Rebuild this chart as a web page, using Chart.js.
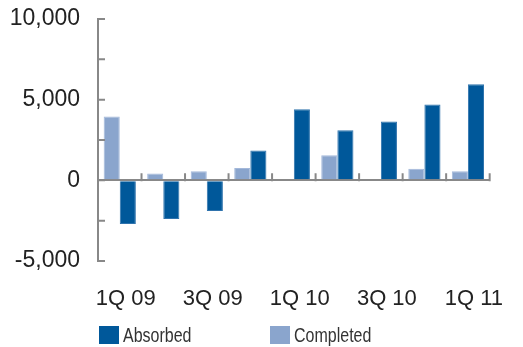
<!DOCTYPE html>
<html>
<head>
<meta charset="utf-8">
<script src="https://cdn.jsdelivr.net/npm/chart.js@4/dist/chart.umd.min.js"></script>
<style>
  html, body { margin: 0; padding: 0; background: #fff; }
  #wrap { position: relative; width: 523px; height: 347px; }
  .swatch { position: absolute; top: 326px; width: 20px; height: 18px; }
  .ltext { position: absolute; top: 323px; font-family: "Liberation Sans", Arial, sans-serif;
           font-size: 20px; line-height: 24px; color: #333; white-space: nowrap;
           transform: scaleX(0.8); transform-origin: 0 50%; }
</style>
</head>
<body>
<div id="wrap">
  <canvas id="c" width="523" height="347"></canvas>
  <div id="legend"></div>
</div>
<script>
// Quarterly office space: completions vs. net absorption
const quarters = ['1Q 09', '2Q 09', '3Q 09', '4Q 09', '1Q 10', '2Q 10', '3Q 10', '4Q 10', '1Q 11'];
const completed = [3950, 430, 560, 760, 0, 1550, 0, 720, 560];
const absorbed = [-2700, -2400, -1900, 1850, 4400, 3100, 3650, 4700, 5950];
const yTickLabels = { '10000': '10,000', '5000': '5,000', '0': '0', '-5000': '-5,000' };

const DARK = '#00589a';
const LIGHT = '#8aa5cd';
const AXIS = '#888888';

// Short inward tick marks along the value axis and the zero line
const innerTicks = {
  id: 'innerTicks',
  afterDatasetsDraw(chart) {
    const { ctx, scales: { x, y } } = chart;
    const len = 7;
    ctx.save();
    ctx.strokeStyle = AXIS;
    ctx.lineWidth = 2;
    ctx.beginPath();
    y.ticks.forEach(t => {
      const py = y.getPixelForValue(t.value);
      ctx.moveTo(y.right, py);
      ctx.lineTo(y.right + len, py);
    });
    const zero = y.getPixelForValue(0);
    const half = (x.getPixelForValue(1) - x.getPixelForValue(0)) / 2;
    for (let i = 0; i <= quarters.length; i++) {
      const px = x.getPixelForValue(0) - half + i * half * 2;
      ctx.moveTo(px, zero + 1);
      ctx.lineTo(px, zero - len);
    }
    ctx.stroke();
    ctx.restore();
  }
};

const chart = new Chart(document.getElementById('c'), {
  type: 'bar',
  data: {
    labels: quarters,
    datasets: [
      { label: 'Completed', data: completed, backgroundColor: LIGHT,
        borderColor: '#a3b8da', borderWidth: 1 },
      { label: 'Absorbed', data: absorbed, backgroundColor: DARK,
        borderColor: '#2f73ad', borderWidth: 1 }
    ]
  },
  options: {
    responsive: false,
    animation: false,
    layout: { padding: { left: 0, right: 17, top: 19, bottom: 0 } },
    datasets: { bar: { categoryPercentage: 0.74, barPercentage: 1.0 } },
    plugins: { legend: { display: false }, tooltip: { enabled: false } },
    scales: {
      x: {
        offset: true,
        grid: { display: false, drawTicks: false },
        border: { display: false },
        ticks: {
          autoSkip: false,
          maxRotation: 0,
          padding: 25,
          labelOffset: 6,
          color: '#222',
          font: { family: '"Liberation Sans", Arial, sans-serif', size: 22 },
          callback: (v, i) => (i % 2 === 0 ? quarters[i] : '')
        },
        afterFit: s => { s.height = 86; }
      },
      y: {
        min: -5000,
        max: 10000,
        grid: {
          drawTicks: true,
          tickLength: 18,
          tickColor: 'rgba(0,0,0,0)',
          lineWidth: 2,
          color: c => (c.tick && c.tick.value === 0 ? AXIS : 'rgba(0,0,0,0)')
        },
        border: { display: true, color: AXIS, width: 2 },
        ticks: {
          stepSize: 2500,
          padding: 0,
          color: '#222',
          font: { family: '"Liberation Sans", Arial, sans-serif', size: 23 },
          callback: v => yTickLabels[String(v)] || ''
        },
        afterFit: s => { s.width = 98; }
      }
    }
  },
  plugins: [innerTicks]
});

// Legend: Absorbed first, then Completed
const legend = document.getElementById('legend');
[[1, 99], [0, 270]].forEach(([idx, left]) => {
  const ds = chart.data.datasets[idx];
  const sw = document.createElement('div');
  sw.className = 'swatch';
  sw.style.left = left + 'px';
  sw.style.background = ds.backgroundColor;
  const txt = document.createElement('div');
  txt.className = 'ltext';
  txt.style.left = (left + 24) + 'px';
  txt.textContent = ds.label;
  legend.appendChild(sw);
  legend.appendChild(txt);
});
</script>
</body>
</html>
